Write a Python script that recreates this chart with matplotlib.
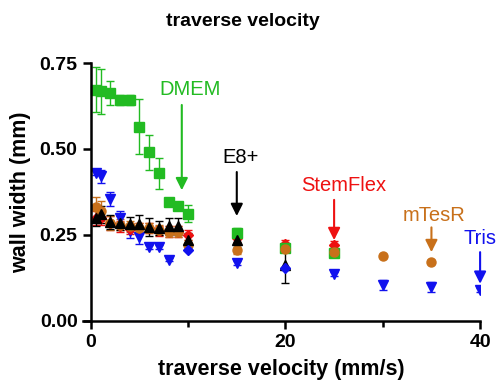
import numpy as np
import matplotlib.pyplot as plt

plt.rcParams['font.family'] = ['Liberation Sans', 'DejaVu Sans']

# data (x in mm/s, wall width in mm)
x_dmem = [0.5, 1, 2, 3, 4, 5, 6, 7, 8, 9, 10, 15, 20, 25]
y_dmem = [0.672, 0.668, 0.662, 0.642, 0.642, 0.565, 0.49, 0.43, 0.345, 0.335, 0.312, 0.255, 0.212, 0.197]
e_dmem = [0.065, 0.065, 0.035, 0.015, 0.015, 0.08, 0.05, 0.045, 0.01, 0.01, 0.025, 0.015, 0.01, 0.01]

x_e8 = [0.5, 1, 2, 3, 4, 5, 6, 7, 8, 9, 10, 15, 20]
y_e8 = [0.30, 0.31, 0.288, 0.285, 0.283, 0.282, 0.273, 0.27, 0.275, 0.275, 0.235, 0.235, 0.163]
e_e8 = [0.025, 0.025, 0.02, 0.02, 0.02, 0.025, 0.025, 0.02, 0.025, 0.025, 0.02, 0.015, 0.053]

x_stem = [0.5, 1, 2, 3, 4, 5, 6, 7, 8, 9, 10, 15, 20, 25]
y_stem = [0.30, 0.30, 0.285, 0.275, 0.268, 0.27, 0.27, 0.262, 0.26, 0.26, 0.25, 0.24, 0.225, 0.22]
e_stem = [0.02, 0.02, 0.02, 0.015, 0.015, 0.015, 0.015, 0.015, 0.015, 0.015, 0.015, 0.01, 0.01, 0.012]

x_mtesr = [0.5, 1, 2, 3, 4, 5, 6, 7, 8, 9, 10, 15, 20, 25, 30, 35]
y_mtesr = [0.33, 0.32, 0.285, 0.28, 0.275, 0.27, 0.27, 0.265, 0.26, 0.26, 0.22, 0.205, 0.21, 0.20, 0.19, 0.172]
e_mtesr = [0.03, 0.03, 0.02, 0.015, 0.015, 0.015, 0.015, 0.015, 0.015, 0.015, 0.015, 0.01, 0.01, 0.01, 0.005, 0.005]

x_tris = [0.5, 1, 2, 3, 4, 5, 6, 7, 8, 15, 25, 30, 35, 40]
y_tris = [0.43, 0.42, 0.355, 0.30, 0.262, 0.245, 0.215, 0.215, 0.178, 0.168, 0.136, 0.105, 0.098, 0.09]
e_tris = [0.005, 0.02, 0.02, 0.02, 0.02, 0.02, 0.005, 0.005, 0.005, 0.005, 0.005, 0.015, 0.015, 0.005]

x_blue2 = [10, 20]
y_blue2 = [0.205, 0.155]

# label, x, text bottom, arrow start, arrow tip, text x shift
notes = [
    ('DMEM', 9.35, 0.645, 0.628, 0.38, 0.8),
    ('E8+', 15, 0.448, 0.433, 0.305, 0.4),
    ('StemFlex', 25, 0.366, 0.352, 0.235, 1.0),
    ('mTesR', 35, 0.280, 0.272, 0.200, 0.3),
    ('Tris', 40, 0.212, 0.200, 0.108, 0.0),
]

fig = plt.figure(figsize=(4.97, 3.89), dpi=100)
ax = fig.add_axes([0.167, 0.175, 0.799, 0.663])

green = '#22bb22'
orange = '#c8701a'
red = '#ee1111'
blue = '#1111ee'
note_colors = [green, 'black', red, orange, blue]

kw = dict(linestyle='none', capsize=3, elinewidth=1, capthick=1)
ax.errorbar(x_tris, y_tris, yerr=e_tris, marker='v', ms=6.5, color=blue, **kw)
ax.errorbar(x_stem, y_stem, yerr=e_stem, marker='D', ms=5, color=red, **kw)
ax.errorbar(x_dmem, y_dmem, yerr=e_dmem, marker='s', ms=7.5, color=green, **kw)
ax.errorbar(x_mtesr, y_mtesr, yerr=e_mtesr, marker='o', ms=6.5, color=orange, **kw)
ax.errorbar(x_e8, y_e8, yerr=e_e8, marker='^', ms=7, color='black', **kw)
ax.errorbar(x_blue2, y_blue2, marker='D', ms=5.5, color=blue, linestyle='none')

for (txt, x, yt, ya, yb, dx), c in zip(notes, note_colors):
    ax.annotate('', xy=(x, yb), xytext=(x, ya),
                arrowprops=dict(arrowstyle='-|>', color=c, lw=1.5, mutation_scale=18,
                                shrinkA=0, shrinkB=0))
    ax.text(x + dx, yt, txt, color=c, fontsize=14.5, ha='center', va='bottom')

ax.set_xlim(-0.8, 40)
ax.set_ylim(0, 0.75)
ax.spines['left'].set_position(('data', 0))
ax.spines['top'].set_visible(False)
ax.spines['right'].set_visible(False)
for s in ['left', 'bottom']:
    ax.spines[s].set_linewidth(1.8)
ax.set_xticks([0, 20, 40])
ax.set_xticks([10, 30], minor=True)
ax.set_yticks([0, 0.25, 0.5, 0.75])
ax.set_yticklabels(['0.00', '0.25', '0.50', '0.75'])
ax.tick_params(which='both', width=1.8, length=6, labelsize=14)
ax.tick_params(which='minor', length=4)
for t in ax.get_xticklabels() + ax.get_yticklabels():
    t.set_fontweight('bold')

ax.set_xlabel('traverse velocity (mm/s)', fontsize=15.5, fontweight='bold', labelpad=6)
ax.set_ylabel('wall width (mm)', fontsize=15.5, fontweight='bold', labelpad=6)
fig.text(243 / 497, 1 - 22 / 389, 'traverse velocity', fontsize=14, fontweight='bold',
         ha='center', va='center')

fig.savefig('out.png', dpi=100)
